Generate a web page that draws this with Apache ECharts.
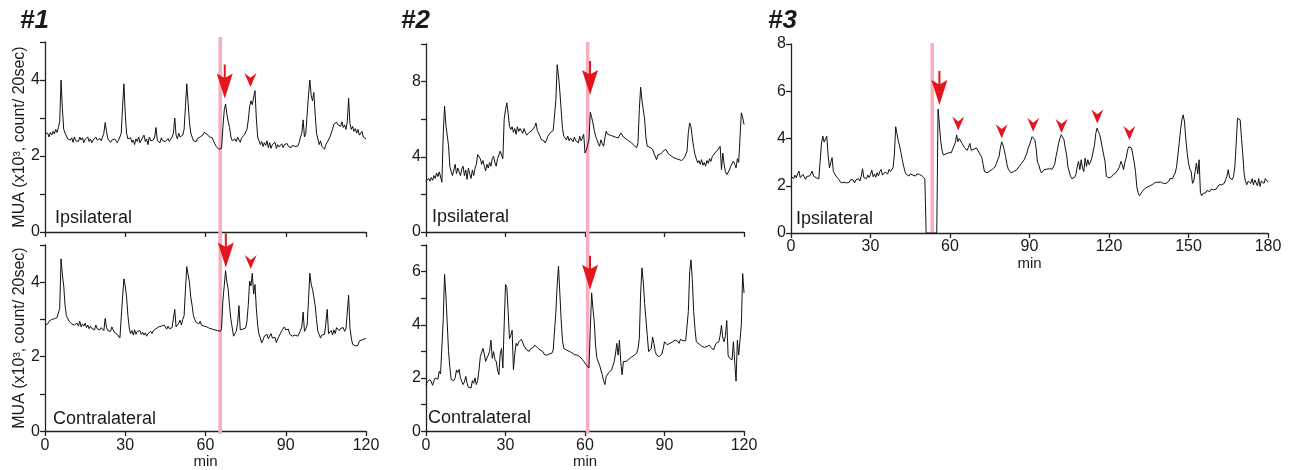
<!DOCTYPE html>
<html><head><meta charset="utf-8">
<script src="https://cdn.jsdelivr.net/npm/echarts@6/dist/echarts.min.js"></script>
<style>html,body{margin:0;padding:0;background:#fff}#c{width:1295px;height:470px}</style>
</head><body><div id="c"></div>
<script>
// sampling step of the traces (minutes)
const STEP_MIN = 0.5;
const xTickLabels120 = [0, 30, 60, 90, 120];
const xTickLabels180 = [0, 30, 60, 90, 120, 150, 180];

// #1 Ipsilateral, t = 0..120 min
const exp1Ipsi = [
2.6,2.55,2.6,2.5,2.62,2.55,2.65,2.58,2.7,2.62,
2.75,2.9,4.0,3.25,2.7,2.6,2.55,2.45,2.5,2.42,
2.48,2.36,2.5,2.4,2.45,2.38,2.5,2.42,2.48,2.35,
2.44,2.4,2.5,2.38,2.45,2.35,2.42,2.4,2.5,2.42,
2.38,2.46,2.4,2.5,2.6,2.88,2.65,2.45,2.4,2.36,
2.42,2.38,2.45,2.4,2.35,2.42,2.5,2.6,3.3,3.9,
3.1,2.6,2.45,2.4,2.48,2.36,2.42,2.3,2.45,2.38,
2.5,2.35,2.42,2.4,2.55,2.38,2.45,2.3,2.5,2.4,
2.45,2.42,2.5,2.75,2.4,2.45,2.35,2.48,2.4,2.45,
2.38,2.42,2.46,2.38,2.44,2.5,2.6,3.0,2.55,2.45,
2.6,2.5,2.45,2.55,2.7,3.3,3.9,3.4,2.9,2.6,
2.5,2.4,2.45,2.38,2.46,2.42,2.5,2.45,2.55,2.62,
2.65,2.58,2.55,2.5,2.45,2.48,2.4,2.32,2.25,2.2,
2.18,2.15,2.2,2.75,3.2,3.37,3.1,2.9,2.75,2.5,
2.4,2.35,2.45,2.38,2.5,2.42,2.36,2.48,2.45,2.55,
2.5,2.7,2.95,3.3,3.45,3.35,3.55,3.72,3.0,2.5,
2.4,2.3,2.38,2.25,2.35,2.28,2.4,2.22,2.35,2.2,
2.3,2.25,2.36,2.2,2.3,2.24,2.28,2.32,2.22,2.3,
2.26,2.33,2.25,2.3,2.22,2.28,2.32,2.25,2.3,2.26,
2.35,2.5,2.6,2.95,2.5,2.6,3.1,3.6,4.0,3.6,
3.45,3.67,3.1,2.6,2.45,2.3,2.4,2.25,2.3,2.18,
2.3,2.36,2.4,2.5,2.55,2.7,2.84,2.8,2.89,2.82,
2.86,2.78,2.9,2.75,2.82,2.7,2.9,3.52,2.85,2.7,
2.78,2.65,2.72,2.6,2.7,2.55,2.58,2.65,2.5,2.55,
2.45];

// #1 Contralateral
const exp1Contra = [
2.85,2.9,2.88,2.95,2.9,3.0,2.95,3.02,3.0,3.05,
3.1,3.3,4.63,4.2,3.9,3.37,3.1,3.05,2.95,2.98,
2.88,2.92,2.85,2.8,2.9,2.82,2.95,2.8,2.88,2.82,
2.9,2.78,2.85,2.75,2.82,2.76,2.8,2.72,2.85,2.75,
2.8,2.72,2.78,2.82,2.7,3.03,2.78,2.7,2.75,2.68,
2.8,2.72,2.65,2.7,2.6,2.55,2.5,2.46,3.6,4.09,
3.9,3.6,3.1,2.77,2.62,2.7,2.58,2.72,2.6,2.68,
2.65,2.7,2.6,2.66,2.58,2.64,2.55,2.62,2.6,2.68,
2.62,2.7,2.68,2.75,2.72,2.8,2.75,2.82,2.78,2.85,
2.8,2.74,2.82,2.75,2.8,2.78,2.82,3.27,2.8,2.75,
2.9,2.98,2.85,3.0,3.1,3.8,4.42,4.2,4.0,3.6,
3.37,3.1,3.0,2.92,2.96,2.88,2.95,2.85,2.9,2.82,
2.86,2.8,2.84,2.76,2.8,2.74,2.78,2.72,2.76,2.7,
2.72,2.68,2.75,3.5,3.9,4.31,4.0,3.8,3.35,3.0,
2.77,2.55,2.62,2.68,2.9,3.37,2.72,2.7,2.74,2.78,
2.77,2.95,3.4,4.03,3.9,4.24,3.68,3.94,3.3,2.85,
2.6,2.5,2.37,2.45,2.55,2.5,2.6,2.48,2.55,2.62,
2.5,2.45,2.52,2.38,2.48,2.55,2.62,2.7,2.75,2.8,
2.72,2.68,2.74,2.6,2.65,2.55,2.6,2.58,2.62,2.55,
2.6,2.7,2.8,3.2,2.68,2.75,2.85,3.5,4.24,3.95,
3.81,3.6,3.37,3.0,2.68,2.6,2.5,2.58,2.55,2.6,
2.9,3.27,2.62,2.6,2.7,2.58,2.72,2.62,2.78,2.8,
2.7,2.76,2.72,2.78,2.68,2.74,2.72,3.65,2.77,2.5,
2.33,2.3,2.29,2.34,2.3,2.42,2.38,2.45,2.42,2.48,
2.49];

// #2 Ipsilateral
const exp2Ipsi = [
2.7,2.65,2.85,2.7,2.9,2.75,3.0,2.85,3.14,2.95,
3.2,3.3,2.65,5.2,6.7,5.7,5.6,4.6,3.5,3.2,
3.0,3.3,3.6,3.1,3.4,3.2,3.0,3.35,3.5,3.0,
3.3,2.8,3.4,3.1,2.85,3.3,3.0,3.4,3.6,4.12,
4.2,3.9,3.6,3.8,3.5,3.25,3.6,3.4,3.7,3.5,
3.9,4.03,3.7,3.5,3.9,3.8,4.3,4.1,3.9,6.0,
6.5,6.87,6.3,5.63,5.45,5.6,5.3,5.5,5.2,5.6,
5.35,5.5,5.4,5.25,5.5,5.3,5.15,5.1,5.3,5.2,
5.4,5.3,5.6,5.8,5.4,5.3,5.1,4.92,5.0,4.85,
4.74,4.9,5.1,5.2,5.3,5.25,5.4,5.5,7.0,8.9,
8.3,7.5,6.5,5.5,5.1,5.0,4.9,5.1,4.85,5.0,
4.95,4.8,5.05,4.85,4.95,4.74,5.1,4.85,5.0,5.2,
4.2,4.35,4.25,4.9,6.37,6.1,5.8,5.4,5.1,4.92,
4.7,4.56,4.9,4.7,4.56,5.0,5.36,5.2,5.3,5.15,
5.25,5.1,5.2,5.05,5.15,5.0,5.1,5.27,5.2,5.05,
5.1,4.95,5.0,4.85,4.92,4.75,4.8,4.6,4.55,4.48,
4.75,6.5,7.7,7.0,6.5,6.0,5.0,4.56,4.6,4.5,
4.6,4.4,4.2,4.3,3.85,4.1,4.0,4.15,4.05,4.3,
4.2,4.4,4.3,4.15,4.2,4.05,4.1,3.95,4.05,3.9,
4.0,3.85,3.95,3.8,3.9,3.95,3.94,4.3,5.3,5.8,
5.6,5.0,4.5,4.12,3.9,3.68,3.8,3.6,3.85,3.55,
3.7,3.5,3.8,3.65,3.9,3.75,4.0,4.1,4.2,4.3,
4.35,4.39,4.56,3.32,4.2,3.6,3.2,3.05,3.1,3.3,
3.5,3.6,3.77,3.6,3.41,3.9,3.7,3.8,6.34,6.1,
5.72];

// #2 Contralateral
const exp2Contra = [
1.75,1.85,1.8,1.94,1.85,1.72,1.9,2.0,2.06,1.95,
2.25,2.15,2.12,4.2,5.9,5.1,4.1,3.0,2.4,1.94,
1.95,1.9,2.0,2.3,2.2,2.32,2.0,1.95,1.75,1.85,
2.06,1.8,1.65,1.7,1.62,1.9,1.8,2.0,1.75,1.9,
2.3,2.8,2.85,3.11,2.9,2.62,2.75,2.86,3.0,3.42,
2.74,2.99,2.7,2.62,2.3,2.12,2.9,3.11,2.37,4.0,
5.52,5.4,4.5,3.48,3.6,3.79,2.31,2.9,3.3,3.2,
3.36,3.3,3.45,3.48,3.2,3.17,3.05,3.11,3.0,3.1,
3.05,3.15,3.23,3.2,3.15,3.17,3.05,2.99,3.0,2.9,
2.93,2.85,2.86,2.9,2.95,2.93,3.05,3.11,4.47,5.5,
6.2,5.2,4.2,3.4,3.11,3.08,3.05,3.02,3.0,2.98,
2.95,2.93,2.88,2.9,2.86,2.82,2.8,2.75,2.7,2.62,
2.55,2.49,2.42,2.37,3.85,5.2,4.6,4.1,3.2,2.74,
2.6,2.49,2.3,2.12,1.9,1.75,2.05,2.12,2.2,2.25,
2.3,2.37,2.6,2.9,3.3,2.86,3.42,2.6,2.12,2.62,
2.55,2.62,2.65,2.7,2.74,2.78,2.8,2.85,2.9,2.93,
3.1,3.48,5.2,6.14,5.6,4.8,4.2,3.6,2.99,3.05,
3.11,3.54,3.3,3.0,2.86,2.82,2.8,2.85,2.9,3.1,
3.36,3.3,3.25,3.23,3.3,3.28,3.35,3.3,3.42,3.35,
3.38,3.3,3.45,3.48,3.4,3.36,3.4,3.45,4.5,6.0,
6.44,5.7,4.5,3.85,3.36,3.3,3.28,3.25,3.2,3.23,
3.15,3.2,3.18,3.22,3.23,3.15,3.1,3.05,3.2,3.3,
3.3,3.36,3.6,3.98,3.5,3.36,3.6,4.16,2.86,2.75,
2.7,2.68,3.36,2.6,1.88,3.42,2.86,2.86,4.0,5.93,
5.2];

// #3 Ipsilateral, t = 0..180 min
const exp3Ipsi = [
2.41,2.48,2.3,2.45,2.34,2.5,2.62,2.34,2.42,2.48,
2.38,2.27,2.4,2.35,2.41,2.5,2.62,2.41,2.45,2.34,
2.3,2.29,2.29,3.8,4.1,3.85,3.9,4.1,3.3,2.76,
2.83,3.19,2.6,2.55,2.41,2.35,2.27,2.2,2.12,2.18,
2.15,2.22,2.12,2.2,2.15,2.26,2.18,2.24,2.12,2.25,
2.2,2.3,2.2,2.41,2.72,2.34,2.4,2.3,2.45,2.35,
2.48,2.66,2.38,2.5,2.36,2.55,2.42,2.6,2.69,2.45,
2.41,2.58,2.62,2.5,2.69,2.6,2.65,2.76,3.3,4.5,
4.2,3.9,3.68,3.4,3.1,2.83,2.6,2.48,2.5,2.41,
2.5,2.55,2.45,2.48,2.41,2.5,2.55,2.48,2.45,2.41,
2.35,2.3,0,0,0,0,0,0,0,0,
0,5.24,4.6,3.9,3.5,3.3,3.26,3.35,3.3,3.4,
3.47,3.4,3.55,3.6,3.82,4.15,3.86,4.0,3.93,3.8,
3.79,3.6,3.58,3.5,3.44,3.79,3.5,3.44,3.55,3.51,
3.6,3.58,3.4,3.37,3.2,2.9,2.6,2.52,2.55,2.59,
2.62,2.65,2.7,2.66,2.8,2.94,3.1,3.23,3.6,3.86,
3.72,3.5,3.23,2.9,2.7,2.66,2.55,2.52,2.6,2.58,
2.66,2.7,2.8,2.87,2.95,3.01,3.1,3.17,3.37,3.6,
3.73,3.9,4.08,4.0,3.95,3.59,3.0,2.89,2.68,2.54,
2.6,2.68,2.65,2.7,2.7,2.72,2.75,2.7,2.68,2.9,
3.24,3.5,3.8,4.0,4.16,4.05,3.95,3.6,3.31,2.8,
2.6,2.4,2.3,2.26,2.35,2.47,2.8,3.03,2.68,3.1,
2.75,2.6,3.17,2.82,3.1,2.89,3.0,3.17,3.24,3.7,
4.2,4.44,4.3,4.16,3.9,3.59,3.3,3.03,2.4,2.35,
2.33,2.4,2.38,2.47,2.45,2.54,2.5,2.7,2.82,3.03,
2.9,2.68,3.0,3.17,3.52,3.65,3.73,3.6,3.52,3.0,
2.6,1.95,1.7,1.58,1.65,1.75,1.83,1.88,1.9,1.95,
1.98,2.0,2.04,2.06,2.1,2.14,2.18,2.15,2.2,2.16,
2.14,2.1,2.04,2.1,2.15,2.18,2.3,2.37,2.3,2.45,
2.54,2.8,3.3,3.8,4.37,4.8,5.0,4.7,3.95,3.4,
2.96,2.7,2.61,2.1,2.2,2.6,2.96,2.5,3.1,1.7,
1.58,1.68,1.76,1.7,1.8,1.83,1.75,1.85,1.8,1.83,
1.9,1.86,1.95,2.04,1.98,2.04,2.0,2.1,2.26,2.4,
2.68,2.33,2.3,2.26,2.4,2.82,3.8,4.86,4.8,4.79,
4.0,3.3,2.5,2.18,2.04,2.2,2.26,2.1,2.3,2.04,
2.25,2.18,2.0,2.3,1.97,2.2,2.26,2.1,2.3,2.26,
2.15];

// stimulation time (pink bar), minutes: #1, #2, #3
const stimMin = [65.5, 61.0, 53.3];
// big arrow [min, value at arrow centre] per panel
const arrow1Ipsi = [67.2, 3.96];
const arrow1Contra = [67.6, 4.85];
const arrow2Ipsi = [61.9, 8.19];
const arrow2Contra = [61.9, 5.96];
const arrow3Ipsi = [56.0, 6.14];
// arrowheads [min, value at centre]
const heads1Ipsi = [[76.8, 4.0]];
const heads1Contra = [[76.9, 4.54]];
const heads3Ipsi = [[63.1, 4.63], [79.5, 4.31], [91.4, 4.58], [102.1, 4.53], [115.6, 4.93], [127.7, 4.23]];

const FONT = '"Liberation Sans", Arial, Helvetica, sans-serif';
const INK = '#1a1a1a';
const RED = '#e3161d';
const PINK = '#f7adbd';
const ARROW_PATH = 'path://M7,0 L9,0 L9,13 L16,9 L8,34 L0,9 L7,13 Z';
const HEAD_PATH = 'path://M0,0 L5,4.5 L10,0 L5,13 Z';
const Y_NAME = 'MUA (x10\u00B3, count/ 20sec)';

function toXY(arr) { return arr.map((v, i) => [i * STEP_MIN, v]); }

const axisLineStyle = { color: '#222', width: 1.3 };
function xAx(grid, max, showLabels, withName) {
  return {
    type: 'value', gridIndex: grid, min: 0, max: max, interval: 30,
    axisLine: { show: true, onZero: false, lineStyle: axisLineStyle },
    axisTick: { show: true, length: 5, lineStyle: axisLineStyle },
    splitLine: { show: false },
    axisLabel: { show: showLabels, color: INK, fontSize: 16, fontFamily: FONT, margin: 6 },
    name: withName ? 'min' : '', nameLocation: 'middle', nameGap: 22,
    nameTextStyle: { color: INK, fontSize: 15, fontFamily: FONT }
  };
}
function yAx(grid, max, interval, labelEvery, withName) {
  return {
    type: 'value', gridIndex: grid, min: 0, max: max, interval: interval,
    axisLine: { show: true, lineStyle: axisLineStyle },
    axisTick: { show: true, length: 5, lineStyle: axisLineStyle },
    splitLine: { show: false },
    axisLabel: { color: INK, fontSize: 16, fontFamily: FONT, margin: 5,
      formatter: v => (Math.round(v) % labelEvery === 0 ? String(v) : '') },
    name: withName ? Y_NAME : '', nameLocation: 'middle', nameGap: 17, nameRotate: 90,
    nameTextStyle: { color: INK, fontSize: 16, fontFamily: FONT }
  };
}
function hiddenX(grid, max) { return { type: 'value', gridIndex: grid, min: 0, max: max, show: false }; }
function hiddenY(grid) { return { type: 'value', gridIndex: grid, min: 0, max: 1, show: false }; }

function trace(idx, arr, arrow, heads) {
  const pts = [{ coord: arrow, symbol: ARROW_PATH, symbolSize: [16, 34] }];
  (heads || []).forEach(h => pts.push({ coord: h, symbol: HEAD_PATH, symbolSize: [12, 14] }));
  return {
    type: 'line', xAxisIndex: idx, yAxisIndex: idx, data: toXY(arr),
    showSymbol: false, symbol: 'none', z: 3,
    lineStyle: { color: '#111', width: 1 },
    markPoint: { silent: true, animation: false, label: { show: false },
      itemStyle: { color: RED }, data: pts }
  };
}
function stimBar(idx, t) {
  return { type: 'line', xAxisIndex: idx, yAxisIndex: idx, data: [[t, 0], [t, 1]],
    symbol: 'none', z: 1, silent: true, lineStyle: { color: PINK, width: 3.5 } };
}

const titleStyle = { fontStyle: 'italic', fontWeight: 'bold', fontSize: 26, color: INK, fontFamily: FONT };
const option = {
  animation: false,
  backgroundColor: '#ffffff',
  title: [
    { text: '#1', left: 20, top: 8, padding: 0, textStyle: titleStyle },
    { text: '#2', left: 401, top: 8, padding: 0, textStyle: titleStyle },
    { text: '#3', left: 768, top: 8, padding: 0, textStyle: titleStyle }
  ],
  grid: [
    { left: 45, top: 42, width: 321, height: 190 },
    { left: 45, top: 245, width: 321, height: 189 },
    { left: 426, top: 44, width: 318, height: 188 },
    { left: 426, top: 245, width: 318, height: 189 },
    { left: 791, top: 44, width: 477, height: 189 },
    { left: 45, top: 37, width: 321, height: 397 },
    { left: 426, top: 42, width: 318, height: 392 },
    { left: 791, top: 43, width: 477, height: 190 }
  ],
  xAxis: [
    xAx(0, 120, false, false), xAx(1, 120, true, true),
    xAx(2, 120, false, false), xAx(3, 120, true, true),
    xAx(4, 180, true, true),
    hiddenX(5, 120), hiddenX(6, 120), hiddenX(7, 180)
  ],
  yAxis: [
    yAx(0, 5, 1, 2, true), yAx(1, 5, 1, 2, true),
    yAx(2, 10, 2, 4, false), yAx(3, 7, 1, 2, false),
    yAx(4, 8, 2, 2, false),
    hiddenY(5), hiddenY(6), hiddenY(7)
  ],
  graphic: [
    { type: 'text', left: 55, top: 209, style: { text: 'Ipsilateral', fontSize: 18, fontFamily: FONT, fill: INK } },
    { type: 'text', left: 53, top: 410, style: { text: 'Contralateral', fontSize: 18, fontFamily: FONT, fill: INK } },
    { type: 'text', left: 432, top: 208, style: { text: 'Ipsilateral', fontSize: 18, fontFamily: FONT, fill: INK } },
    { type: 'text', left: 428, top: 409, style: { text: 'Contralateral', fontSize: 18, fontFamily: FONT, fill: INK } },
    { type: 'text', left: 796, top: 210, style: { text: 'Ipsilateral', fontSize: 18, fontFamily: FONT, fill: INK } }
  ],
  series: [
    stimBar(5, stimMin[0]), stimBar(6, stimMin[1]), stimBar(7, stimMin[2]),
    trace(0, exp1Ipsi, arrow1Ipsi, heads1Ipsi),
    trace(1, exp1Contra, arrow1Contra, heads1Contra),
    trace(2, exp2Ipsi, arrow2Ipsi, null),
    trace(3, exp2Contra, arrow2Contra, null),
    trace(4, exp3Ipsi, arrow3Ipsi, heads3Ipsi)
  ]
};

const chart = echarts.init(document.getElementById('c'), null, { renderer: 'canvas' });
chart.setOption(option);
</script>
</body></html>
